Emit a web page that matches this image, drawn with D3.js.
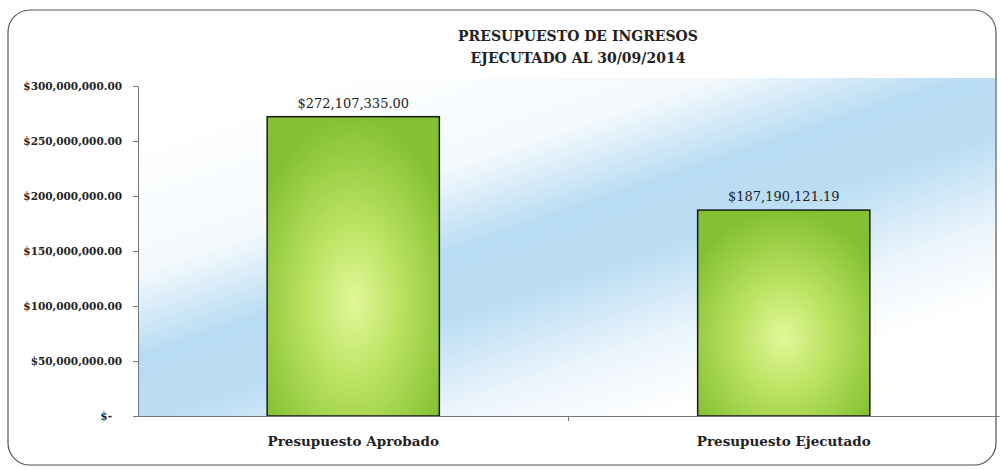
<!DOCTYPE html>
<html>
<head>
<meta charset="utf-8">
<script src="https://cdn.jsdelivr.net/npm/d3@7"></script>
<style>
  body { margin: 0; background: #fff; }
  text { font-family: "DejaVu Serif", "Liberation Serif", serif; }
</style>
</head>
<body>
<div id="chart"></div>
<script>
const categories = ["Presupuesto Aprobado", "Presupuesto Ejecutado"];
const values = [272107335.00, 187190121.19];
const valueLabels = ["$272,107,335.00", "$187,190,121.19"];
const yTicks = [0, 50000000, 100000000, 150000000, 200000000, 250000000, 300000000];
const yTickLabels = ["$-", "$50,000,000.00", "$100,000,000.00", "$150,000,000.00",
  "$200,000,000.00", "$250,000,000.00", "$300,000,000.00"];
const titleLines = ["PRESUPUESTO DE INGRESOS", "EJECUTADO AL 30/09/2014"];

const width = 1001, height = 470;
const margin = { top: 86, right: 2, bottom: 54, left: 138 };

let svg = d3.select("#chart")
    .append("svg")
    .attr("width", width)
    .attr("height", height);

let defs = svg.append("defs");

// blue streak behind the plot (coords are in the plot group's space)
let bg = defs.append("linearGradient")
    .attr("id", "bgGrad")
    .attr("gradientUnits", "userSpaceOnUse")
    .attr("x1", 352).attr("y1", -68)
    .attr("x2", 512).attr("y2", 406);
bg.append("stop").attr("offset", "0").attr("stop-color", "#ffffff");
bg.append("stop").attr("offset", "0.26").attr("stop-color", "#f3f9fd");
bg.append("stop").attr("offset", "0.42").attr("stop-color", "#b8dcf3");
bg.append("stop").attr("offset", "0.55").attr("stop-color", "#bcdef4");
bg.append("stop").attr("offset", "0.72").attr("stop-color", "#ecf5fc");
bg.append("stop").attr("offset", "0.86").attr("stop-color", "#ffffff");
bg.append("stop").attr("offset", "1").attr("stop-color", "#ffffff");

let bar = defs.append("radialGradient")
    .attr("id", "barGrad")
    .attr("cx", "0.5").attr("cy", "0.62")
    .attr("r", "0.62");
bar.append("stop").attr("offset", "0").attr("stop-color", "#e2f79a");
bar.append("stop").attr("offset", "0.45").attr("stop-color", "#b9e25f");
bar.append("stop").attr("offset", "1").attr("stop-color", "#84c034");

// frame
svg.append("rect")
    .attr("x", 8).attr("y", 10)
    .attr("width", 988).attr("height", 455)
    .attr("rx", 22)
    .attr("fill", "#fff")
    .attr("stroke", "#555")
    .attr("stroke-width", 1.2);

let innerW = width - margin.left - margin.right;
let innerH = height - margin.top - margin.bottom;

let g = svg.append("g")
    .attr("transform", `translate(${margin.left}, ${margin.top})`);

g.append("rect")
    .attr("x", 0).attr("y", -8)
    .attr("width", innerW - 4).attr("height", innerH + 8)
    .attr("fill", "url(#bgGrad)");

let x = d3.scaleBand()
    .domain(categories)
    .range([0, innerW])
    .paddingInner(0.6)
    .paddingOuter(0.3);

let y = d3.scaleLinear()
    .domain([0, 300000000])
    .range([innerH, 0]);

// bars
g.selectAll("rect.bar")
    .data(values)
    .enter()
    .append("rect")
    .attr("class", "bar")
    .attr("x", (d, i) => x(categories[i]))
    .attr("y", d => y(d))
    .attr("width", x.bandwidth())
    .attr("height", d => innerH - y(d))
    .attr("fill", "url(#barGrad)")
    .attr("stroke", "#1a1a1a")
    .attr("stroke-width", 1.5);

// value labels
g.selectAll("text.val")
    .data(values)
    .enter()
    .append("text")
    .attr("class", "val")
    .attr("x", (d, i) => x(categories[i]) + x.bandwidth() / 2)
    .attr("y", d => y(d) - 9)
    .attr("text-anchor", "middle")
    .style("font-size", "13px")
    .style("fill", "#222")
    .text((d, i) => valueLabels[i]);

// y axis
let yAxis = g.append("g")
    .call(d3.axisLeft(y)
        .tickValues(yTicks)
        .tickFormat((d, i) => yTickLabels[i])
        .tickSize(5)
        .tickPadding(11));
yAxis.select(".domain").attr("stroke", "#777");
yAxis.selectAll(".tick line").attr("stroke", "#777");
yAxis.selectAll(".tick text")
    .style("font-size", "10.5px")
    .style("font-weight", "bold")
    .style("fill", "#222")
    .style("font-family", "'DejaVu Serif', serif")
    .attr("dx", (d, i) => i === 0 ? -10 : 0);

// x axis
let xAxis = g.append("g")
    .attr("transform", `translate(0, ${innerH})`)
    .call(d3.axisBottom(x).tickSize(0).tickPadding(20));
xAxis.select(".domain").attr("stroke", "#777");
xAxis.selectAll(".tick text")
    .style("font-size", "13.5px")
    .style("font-weight", "bold")
    .style("fill", "#222")
    .style("font-family", "'DejaVu Serif', serif");

// divider tick between categories
g.append("line")
    .attr("x1", innerW / 2).attr("x2", innerW / 2)
    .attr("y1", innerH).attr("y2", innerH + 5)
    .attr("stroke", "#777");

// title
svg.selectAll("text.title")
    .data(titleLines)
    .enter()
    .append("text")
    .attr("class", "title")
    .attr("x", 578)
    .attr("y", (d, i) => 41 + i * 22)
    .attr("text-anchor", "middle")
    .style("font-size", "14px")
    .style("font-weight", "bold")
    .style("fill", "#222")
    .text(d => d);
</script>
</body>
</html>
